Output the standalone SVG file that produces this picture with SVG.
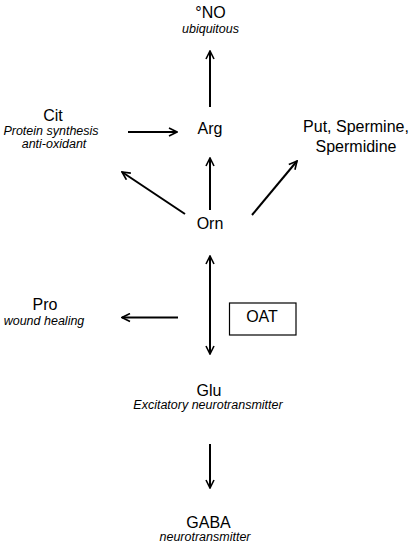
<svg xmlns="http://www.w3.org/2000/svg" width="411" height="550" viewBox="0 0 411 550">
<style>
.t{font-family:"Liberation Sans",Arial,sans-serif;font-size:16px;fill:#000;text-anchor:middle}
.s{font-family:"Liberation Sans",Arial,sans-serif;font-size:12.5px;font-style:italic;fill:#000;text-anchor:middle}
.c{stroke:#000;stroke-width:2;fill:none}
</style>
<defs>
<marker id="ah" viewBox="0 0 10 10" refX="9" refY="5" markerWidth="5" markerHeight="5" orient="auto-start-reverse" markerUnits="strokeWidth">
<path d="M1,1 L9,5 L1,9" fill="none" stroke="#000" stroke-width="1.6"/>
</marker>
</defs>
<rect width="411" height="550" fill="#fff"/>
<g id="connectors">
<line class="c" x1="210" y1="107" x2="210" y2="51" marker-end="url(#ah)"/>
<line class="c" x1="128" y1="132" x2="177" y2="132" marker-end="url(#ah)"/>
<line class="c" x1="210" y1="210" x2="210" y2="158" marker-end="url(#ah)"/>
<line class="c" x1="185" y1="214" x2="122" y2="172" marker-end="url(#ah)"/>
<line class="c" x1="252" y1="215" x2="297" y2="161" marker-end="url(#ah)"/>
<line class="c" x1="210" y1="256" x2="210" y2="354" marker-start="url(#ah)" marker-end="url(#ah)"/>
<line class="c" x1="178" y1="317.5" x2="122" y2="317.5" marker-end="url(#ah)"/>
<line class="c" x1="210" y1="444" x2="210" y2="488" marker-end="url(#ah)"/>
</g>
<g id="no"><text class="t" x="210.5" y="18">°NO</text><text class="s" x="210.5" y="33">ubiquitous</text></g>
<g id="cit"><text class="t" x="53" y="120.5">Cit</text><text class="s" x="51" y="134.5">Protein synthesis</text><text class="s" x="54" y="148">anti-oxidant</text></g>
<g id="arg"><text class="t" x="210" y="134">Arg</text></g>
<g id="put"><text class="t" x="356" y="132">Put, Spermine,</text><text class="t" x="356" y="152">Spermidine</text></g>
<g id="orn"><text class="t" x="210" y="229">Orn</text></g>
<g id="pro"><text class="t" x="45" y="310">Pro</text><text class="s" x="44" y="325">wound healing</text></g>
<g id="oat"><rect x="229.5" y="303" width="66.5" height="32" fill="none" stroke="#000" stroke-width="1.2"/><text class="t" x="262" y="322">OAT</text></g>
<g id="glu"><text class="t" x="209" y="395.5">Glu</text><text class="s" x="208" y="409">Excitatory neurotransmitter</text></g>
<g id="gaba"><text class="t" x="208.5" y="527.5">GABA</text><text class="s" x="205" y="541">neurotransmitter</text></g>
</svg>
